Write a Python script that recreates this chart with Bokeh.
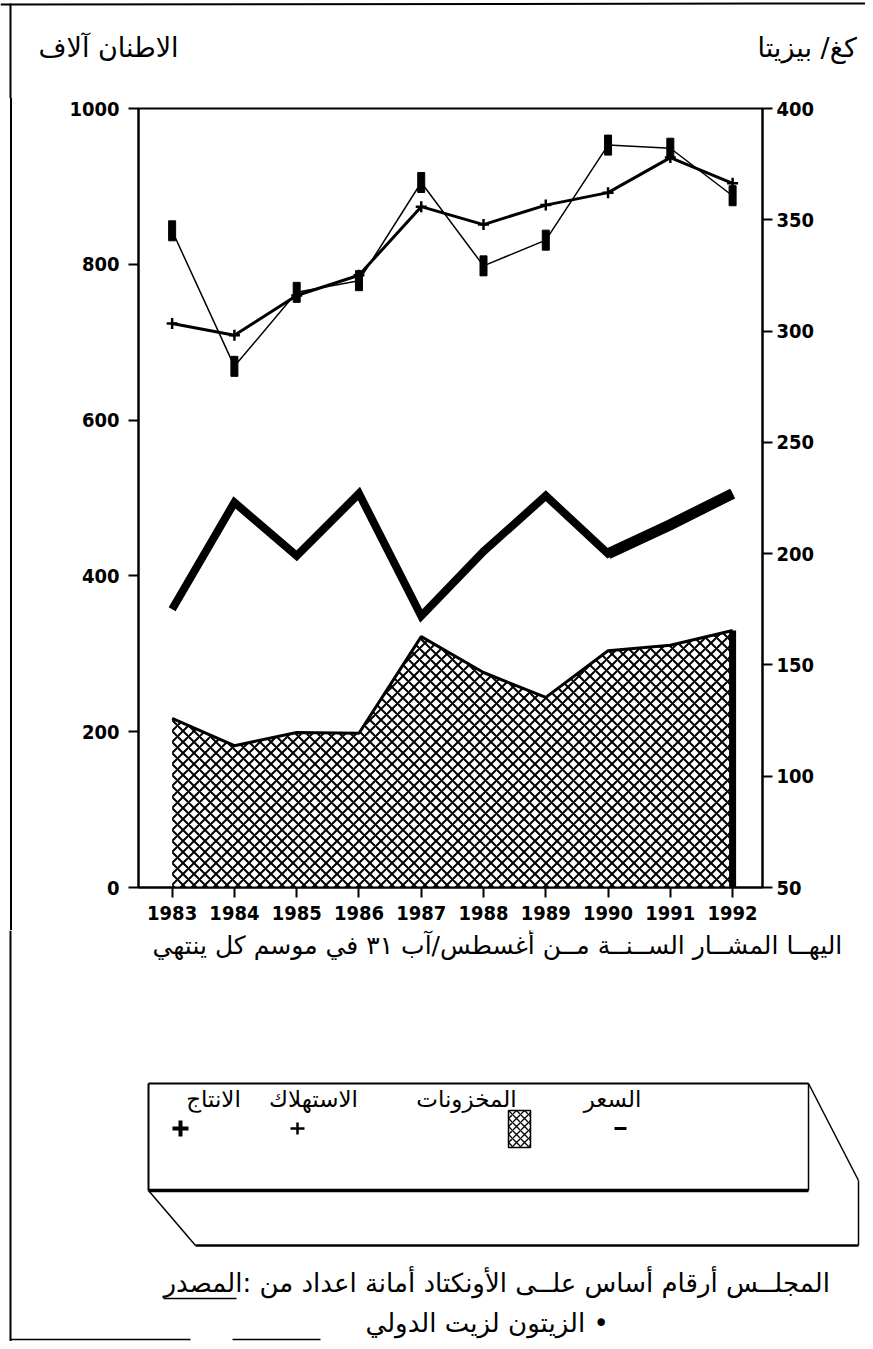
from bokeh.plotting import figure
from bokeh.models import Range1d, LinearAxis, FixedTicker, Div
from bokeh.layouts import column, row
from bokeh.core.properties import value
from bokeh.embed import file_html
from bokeh.resources import INLINE

# ---------------- data ----------------
years = [1983, 1984, 1985, 1986, 1987, 1988, 1989, 1990, 1991, 1992]
production = [843, 669, 764, 779, 905, 798, 831, 953, 949, 888]      # thousand tonnes
consumption = [724, 709, 760, 786, 874, 851, 876, 892, 937, 904]     # thousand tonnes
stocks = [217, 182, 199, 198, 322, 276, 244, 304, 311, 330]          # thousand tonnes
price = [175, 223, 199, 227, 172, 201, 226, 200, 213, 227]           # pesetas / kg
left_ticks = [0, 200, 400, 600, 800, 1000]
right_ticks = [50, 100, 150, 200, 250, 300, 350, 400]
year_labels = {y: str(y) for y in years}

left_title = "آلاف الاطنان"
right_title = "بيزيتا /كغ"
note_text = "ينتهي كل موسم في ٣١ آب/أغسطس مــن الســنــة المشــار اليهــا"
legend_names = ["الانتاج", "الاستهلاك", "المخزونات", "السعر"]
source_1 = "المصدر: من اعداد أمانة الأونكتاد علــى أساس أرقام المجلــس"
source_2 = "الدولي لزيت الزيتون •"

FONT_NUM = "'DejaVu Sans Condensed', 'Liberation Sans Narrow', 'Liberation Sans', sans-serif"
FONT_AR = "DejaVu Sans"
LRM = "\u200e"


def word_order(s):
    # the printed page sets the Arabic words in left-to-right order
    return s.replace(" ", LRM + " ").replace("/", LRM + "/" + LRM) + LRM


# ---------------- helpers: decoration canvases in page pixel coordinates ----------------
def canvas(X0, Y0, w, h):
    f = figure(width=w, height=h, output_backend="svg", toolbar_location=None,
               x_range=Range1d(X0, X0 + w), y_range=Range1d(Y0 + h, Y0),
               x_axis_type=None, y_axis_type=None, min_border=0)
    f.outline_line_color = None
    f.background_fill_color = "white"
    f.border_fill_color = "white"
    return f


def txt(f, s, X, Y, size, font=FONT_AR, align="center"):
    f.text(x=[X], y=[Y], text=[s], text_font=value(font), text_font_size=value(f"{size}px"),
           text_align=align, text_baseline="middle", text_color="black")


def seg(f, X0, Y0, X1, Y1, w=2):
    f.segment(x0=[X0], y0=[Y0], x1=[X1], y1=[Y1], line_color="black", line_width=w)


PW = 865

# ---------------- top strip: axis titles ----------------
top = canvas(0, 0, PW, 98)
seg(top, 0, 4, PW, 3, 2)
seg(top, 10, 3, 10, 98, 2)
txt(top, word_order(left_title), 38, 47, 27, align="left")
txt(top, word_order(right_title), 757, 47, 27, align="left")

# ---------------- left page border next to the chart ----------------
edge = Div(text="", width=12, height=832, margin=0,
           styles={"border-right": "2px solid black", "box-sizing": "border-box",
                   "padding": "0", "margin": "0"})

# ---------------- main chart ----------------
MX0, MY0, MW, MH = 12, 98, PW - 12, 832
FL, FR, FT, FB = 138, 762, 108, 887    # frame edges in page px

p = figure(width=MW, height=MH, output_backend="svg", toolbar_location=None,
           x_range=Range1d(1982.46, 1992.48), y_range=Range1d(0, 1000),
           x_axis_type=None, y_axis_type=None,
           min_border_left=FL - MX0, min_border_right=MW - (FR - MX0),
           min_border_top=FT - MY0, min_border_bottom=MH - (FB - MY0))
p.extra_y_ranges = {"price": Range1d(50, 400)}
p.background_fill_color = "white"
p.border_fill_color = "white"
p.outline_line_color = "black"
p.outline_line_width = 2


def style_axis(ax):
    ax.axis_line_width = 2
    ax.axis_line_color = "black"
    ax.major_tick_line_width = 2
    ax.major_tick_line_color = "black"
    ax.major_tick_out = 10
    ax.major_tick_in = 0
    ax.minor_tick_out = 0
    ax.minor_tick_in = 0
    ax.major_label_text_font = FONT_NUM
    ax.major_label_text_font_style = "bold"
    ax.major_label_text_font_size = "20px"
    ax.major_label_text_color = "black"


xax = LinearAxis(ticker=FixedTicker(ticks=years), major_label_overrides=year_labels)
style_axis(xax)
xax.major_label_standoff = 8
p.add_layout(xax, "below")

lax = LinearAxis(ticker=FixedTicker(ticks=left_ticks))
style_axis(lax)
lax.major_label_standoff = 9
p.add_layout(lax, "left")

rax = LinearAxis(y_range_name="price", ticker=FixedTicker(ticks=right_ticks))
style_axis(rax)
rax.major_label_standoff = 4
p.add_layout(rax, "right")

# stocks: cross-hatched area
p.varea(x=years, y1=0, y2=stocks, fill_color="white", hatch_pattern="diagonal_cross",
        hatch_color="black", hatch_scale=11, hatch_weight=2)
p.line(years, stocks, line_color="black", line_width=3)
p.segment(x0=years[-1:], y0=[0], x1=years[-1:], y1=stocks[-1:], line_color="black", line_width=7)

# price: thick line on right axis
p.line(years, price, y_range_name="price", line_color="black", line_width=8, line_join="miter")
p.line(years[7:], price[7:], y_range_name="price", line_color="black", line_width=11, line_join="miter")

# production
p.line(years, production, line_color="black", line_width=1.5)
p.rect(years, production, width=7, height=20, width_units="screen", height_units="screen",
       fill_color="black", line_color="black")

# consumption
p.line(years, consumption, line_color="black", line_width=3)
p.scatter(years, consumption, marker="cross", size=11, line_width=2.5, line_color="black")

# ---------------- bottom: note, legend, source ----------------
bot = canvas(0, 930, PW, 411)
seg(bot, 10, 930, 10, 1341, 2)
txt(bot, word_order(note_text), 152, 945, 25, align="left")

# legend box (3D look)
seg(bot, 148, 1083, 808, 1083, 2)
seg(bot, 148, 1083, 148, 1190, 2)
seg(bot, 808, 1083, 808, 1190, 1.5)
seg(bot, 148, 1190, 808, 1190, 3.5)
seg(bot, 808, 1083, 858, 1180, 1.5)
seg(bot, 858, 1180, 858, 1245, 1.5)
seg(bot, 148, 1190, 195, 1245, 1.5)
seg(bot, 195, 1245, 858, 1245, 2.5)

legend_x = [213, 313, 466, 612]
for name, X in zip(legend_names, legend_x):
    txt(bot, name, X, 1098, 23)
# legend symbols
seg(bot, 172, 1128, 188, 1128, 4)
seg(bot, 180, 1120, 180, 1136, 4)
seg(bot, 290, 1128, 304, 1128, 2.5)
seg(bot, 297, 1122, 297, 1134, 2.5)
seg(bot, 614, 1128, 626, 1128, 3)
bot.quad(left=[508], right=[530], top=[1110], bottom=[1147], fill_color="white",
         line_color="black", line_width=1.5, hatch_pattern="diagonal_cross",
         hatch_color="black", hatch_scale=8, hatch_weight=1.3)

# source
txt(bot, word_order(source_1), 163, 1282, 26, align="left")
seg(bot, 163, 1298, 236, 1298, 1.5)
txt(bot, word_order(source_2), 365, 1322, 26, align="left")
seg(bot, 10, 1339, 190, 1339, 1.5)
seg(bot, 232, 1339, 320, 1339, 1.5)

layout = column(top, row(edge, p, spacing=0), bot, spacing=0)
open("out.html", "w").write(file_html(layout, INLINE))
